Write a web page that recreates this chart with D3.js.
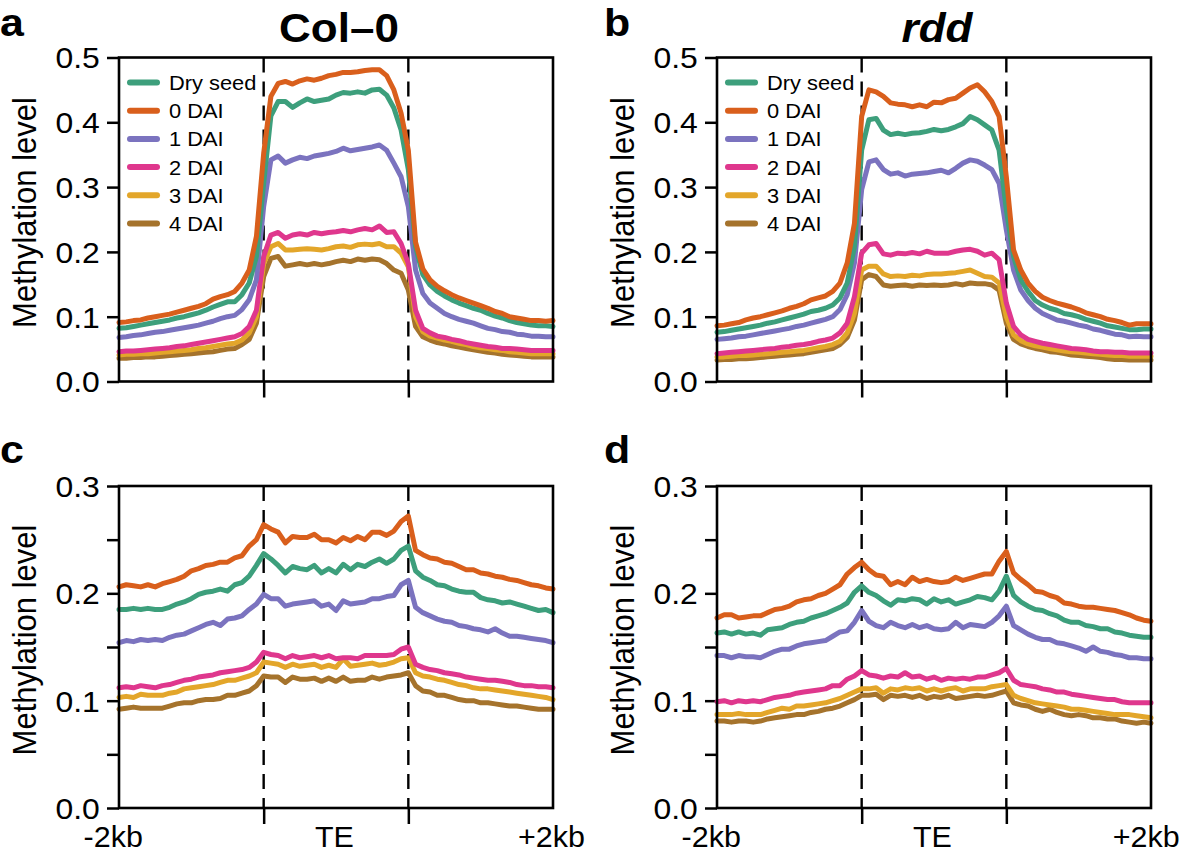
<!DOCTYPE html>
<html>
<head>
<meta charset="utf-8">
<script src="https://d3js.org/d3.v7.min.js"></script>
<style>
  html, body { margin: 0; padding: 0; background: #fff; }
  svg { display: block; }
  text { font-family: "Liberation Sans", Arial, Helvetica, sans-serif; fill: #000; }
</style>
</head>
<body>
<svg id="chart" width="1180" height="852"></svg>
<script>
// ---------------- DATA ----------------
const seriesNames = ["Dry seed", "0 DAI", "1 DAI", "2 DAI", "3 DAI", "4 DAI"];
const seriesColors = ["#3d9f7c", "#d95f1c", "#7b73bf", "#df378d", "#e3a62a", "#a5732c"];
const xLabels = ["-2kb", "TE", "+2kb"];
const teBounds = [20, 40];           // bin index of TE start / end
const xLabelBins = [0, 30, 60];
const yTicksTop = [0, 0.1, 0.2, 0.3, 0.4, 0.5];
const yTicksBottom = [0, 0.05, 0.1, 0.15, 0.2, 0.25, 0.3];
const yLabelsBottom = [0, 0.1, 0.2, 0.3];

// Panel a: Col-0 (upper)
const aDry = [.082,.083,.085,.087,.089,.091,.093,.095,.098,.100,.103,.106,.110,.115,.119,.123,.123,.134,.152,.193,.306,.410,.432,.432,.423,.430,.436,.432,.434,.436,.442,.446,.445,.447,.445,.450,.451,.442,.422,.388,.327,.208,.165,.149,.139,.132,.126,.121,.117,.113,.110,.105,.101,.098,.094,.091,.089,.087,.086,.086,.085];
const aD0 = [.091,.092,.094,.095,.098,.100,.102,.104,.107,.110,.113,.116,.120,.127,.131,.134,.139,.152,.172,.224,.352,.440,.460,.463,.459,.464,.467,.465,.468,.472,.474,.477,.477,.478,.480,.481,.481,.472,.450,.414,.357,.215,.174,.157,.147,.140,.134,.129,.125,.121,.117,.113,.108,.105,.100,.098,.096,.094,.094,.093,.094];
const aD1 = [.068,.069,.071,.072,.074,.076,.077,.079,.081,.083,.085,.087,.090,.093,.097,.100,.102,.111,.126,.157,.270,.342,.348,.337,.342,.346,.344,.348,.350,.352,.355,.360,.356,.358,.360,.362,.365,.357,.337,.316,.270,.172,.136,.121,.113,.105,.100,.096,.093,.090,.086,.082,.080,.077,.076,.073,.072,.070,.070,.069,.069];
const aD2 = [.046,.047,.047,.048,.049,.050,.051,.052,.054,.055,.057,.059,.061,.063,.065,.067,.069,.074,.085,.110,.193,.226,.230,.221,.226,.228,.226,.230,.228,.230,.231,.233,.231,.234,.236,.234,.240,.230,.231,.213,.182,.110,.082,.075,.070,.068,.065,.063,.060,.058,.056,.054,.053,.051,.051,.050,.049,.048,.048,.048,.048];
const aD3 = [.041,.042,.042,.043,.043,.044,.045,.046,.047,.048,.049,.051,.052,.054,.056,.058,.059,.064,.075,.100,.182,.208,.213,.203,.203,.204,.205,.204,.203,.205,.208,.209,.207,.211,.212,.211,.213,.208,.208,.198,.177,.100,.077,.070,.067,.064,.062,.059,.057,.054,.052,.051,.049,.048,.046,.045,.044,.043,.043,.043,.043];
const aD4 = [.036,.036,.037,.037,.038,.038,.039,.040,.041,.042,.043,.044,.045,.046,.048,.050,.051,.057,.065,.090,.162,.190,.193,.178,.180,.182,.180,.182,.180,.182,.185,.187,.185,.189,.187,.189,.188,.182,.172,.167,.141,.085,.069,.064,.060,.058,.055,.053,.051,.049,.047,.045,.044,.042,.041,.040,.039,.038,.038,.038,.038];

// Panel b: rdd (upper)
const bDry = [.076,.077,.079,.081,.083,.085,.087,.090,.092,.095,.098,.101,.104,.108,.110,.113,.118,.129,.152,.208,.357,.404,.406,.388,.381,.383,.381,.383,.384,.386,.389,.387,.389,.393,.398,.409,.404,.396,.388,.357,.265,.193,.157,.139,.125,.118,.113,.110,.105,.103,.100,.096,.093,.090,.086,.084,.082,.080,.080,.081,.081];
const bD0 = [.086,.087,.089,.091,.095,.098,.100,.103,.106,.109,.113,.116,.120,.126,.129,.132,.139,.152,.183,.244,.409,.450,.447,.440,.430,.428,.427,.424,.427,.424,.431,.430,.435,.437,.445,.453,.458,.447,.432,.409,.316,.203,.172,.152,.139,.130,.125,.121,.118,.115,.111,.106,.103,.100,.096,.094,.091,.087,.089,.089,.089];
const bD1 = [.065,.066,.067,.069,.070,.072,.074,.076,.078,.080,.082,.085,.087,.090,.093,.096,.100,.111,.134,.183,.296,.339,.342,.327,.320,.322,.317,.320,.321,.322,.324,.326,.322,.329,.337,.342,.340,.334,.327,.306,.234,.172,.141,.125,.113,.105,.100,.095,.093,.090,.087,.085,.081,.079,.076,.073,.072,.069,.070,.069,.069];
const bD2 = [.043,.044,.045,.046,.047,.048,.049,.050,.051,.053,.054,.056,.057,.059,.062,.064,.067,.075,.090,.131,.198,.211,.213,.197,.195,.198,.197,.199,.197,.201,.198,.198,.198,.201,.203,.204,.201,.195,.198,.188,.121,.085,.072,.065,.062,.059,.057,.055,.053,.051,.050,.049,.047,.046,.046,.045,.045,.044,.044,.044,.044];
const bD3 = [.038,.038,.039,.040,.040,.041,.042,.043,.044,.045,.046,.047,.048,.050,.052,.054,.057,.062,.075,.105,.172,.178,.178,.166,.162,.163,.162,.164,.163,.165,.166,.166,.167,.168,.170,.172,.167,.162,.161,.152,.100,.072,.063,.058,.055,.053,.051,.049,.047,.046,.045,.044,.043,.042,.041,.040,.040,.039,.039,.039,.039];
const bD4 = [.033,.034,.034,.035,.035,.036,.037,.038,.039,.040,.041,.042,.043,.045,.047,.049,.051,.057,.068,.095,.157,.165,.162,.149,.147,.148,.149,.147,.149,.148,.149,.148,.149,.151,.149,.152,.151,.151,.149,.141,.090,.065,.058,.054,.051,.049,.046,.045,.043,.041,.040,.039,.038,.037,.035,.034,.034,.033,.033,.033,.033];

// Panel c: Col-0 (lower)
const cDry = [.185,.185,.186,.185,.186,.185,.185,.187,.190,.192,.195,.199,.201,.202,.204,.202,.208,.210,.216,.226,.237,.232,.226,.219,.225,.223,.222,.226,.219,.223,.219,.227,.222,.227,.225,.229,.232,.228,.232,.240,.244,.221,.215,.212,.208,.207,.204,.202,.201,.201,.196,.194,.193,.191,.192,.190,.188,.186,.184,.185,.182];
const cD0 = [.206,.208,.207,.206,.208,.206,.209,.211,.213,.216,.221,.223,.226,.227,.229,.229,.233,.235,.244,.250,.264,.260,.257,.247,.253,.252,.252,.255,.250,.250,.247,.252,.249,.253,.250,.257,.257,.254,.258,.267,.272,.240,.236,.233,.232,.229,.228,.225,.222,.222,.219,.218,.216,.215,.213,.212,.210,.208,.207,.205,.204];
const cD1 = [.154,.156,.155,.157,.156,.157,.156,.159,.161,.162,.165,.168,.171,.173,.170,.176,.177,.179,.185,.190,.199,.195,.195,.188,.190,.191,.192,.193,.188,.190,.184,.193,.190,.191,.192,.195,.195,.197,.198,.208,.212,.187,.182,.179,.176,.174,.173,.170,.169,.167,.166,.164,.167,.163,.160,.160,.159,.158,.157,.156,.154];
const cD2 = [.112,.113,.112,.114,.113,.112,.114,.115,.117,.119,.120,.122,.123,.124,.126,.127,.128,.129,.131,.136,.145,.143,.142,.139,.142,.140,.141,.142,.140,.142,.139,.140,.140,.139,.142,.142,.142,.142,.143,.148,.150,.134,.131,.129,.128,.126,.125,.124,.122,.121,.120,.119,.119,.118,.117,.115,.114,.114,.113,.113,.112];
const cD3 = [.103,.104,.103,.106,.105,.105,.105,.107,.108,.111,.112,.113,.114,.115,.117,.119,.119,.121,.123,.126,.136,.135,.134,.131,.134,.132,.133,.134,.131,.133,.131,.139,.132,.133,.134,.135,.133,.134,.136,.139,.140,.126,.123,.122,.120,.119,.117,.115,.114,.112,.111,.111,.110,.109,.108,.107,.106,.105,.104,.103,.101];
const cD4 = [.092,.093,.094,.093,.093,.093,.093,.095,.097,.098,.098,.100,.101,.101,.102,.105,.105,.107,.109,.114,.123,.122,.122,.117,.122,.120,.120,.121,.118,.121,.118,.122,.118,.119,.119,.122,.120,.122,.123,.124,.126,.114,.109,.108,.105,.105,.103,.101,.100,.100,.098,.098,.097,.096,.095,.095,.094,.093,.092,.092,.092];

// Panel d: rdd (lower)
const dDry = [.163,.164,.162,.164,.162,.163,.161,.166,.167,.168,.171,.173,.174,.177,.179,.181,.184,.187,.191,.201,.207,.201,.198,.193,.189,.194,.193,.195,.194,.190,.195,.192,.194,.190,.192,.194,.197,.196,.194,.202,.216,.198,.192,.188,.185,.184,.181,.179,.175,.173,.173,.170,.169,.167,.167,.164,.163,.161,.160,.159,.159];
const dD0 = [.177,.180,.180,.177,.178,.179,.179,.182,.185,.186,.188,.192,.194,.195,.198,.200,.204,.208,.218,.224,.229,.222,.217,.216,.208,.211,.208,.215,.211,.213,.211,.210,.211,.215,.212,.214,.216,.218,.218,.230,.239,.219,.213,.208,.202,.201,.198,.196,.191,.190,.188,.187,.187,.186,.185,.184,.182,.180,.177,.175,.174];
const dD1 = [.142,.142,.140,.142,.141,.141,.140,.143,.146,.148,.148,.151,.153,.154,.155,.156,.160,.164,.165,.173,.184,.174,.170,.168,.173,.170,.168,.171,.168,.170,.167,.166,.167,.173,.168,.171,.170,.169,.173,.179,.188,.170,.166,.162,.159,.157,.157,.154,.153,.151,.149,.146,.150,.146,.145,.143,.142,.140,.140,.139,.139];
const dD2 = [.099,.100,.098,.100,.099,.100,.099,.101,.103,.104,.105,.107,.108,.109,.110,.111,.114,.114,.120,.123,.128,.124,.123,.121,.123,.122,.126,.122,.123,.120,.122,.119,.121,.120,.121,.120,.122,.122,.124,.126,.130,.119,.115,.114,.113,.111,.110,.108,.108,.106,.105,.104,.103,.102,.101,.101,.099,.098,.098,.098,.098];
const dD3 = [.087,.087,.087,.088,.087,.087,.087,.089,.091,.093,.092,.095,.095,.096,.097,.098,.100,.102,.105,.108,.111,.111,.112,.107,.111,.110,.112,.111,.112,.109,.111,.109,.111,.112,.109,.111,.111,.111,.113,.114,.115,.105,.102,.100,.098,.097,.096,.095,.094,.092,.092,.091,.090,.089,.088,.087,.087,.087,.086,.085,.084];
const dD4 = [.081,.081,.080,.081,.081,.080,.081,.083,.084,.085,.086,.087,.087,.089,.090,.092,.093,.095,.098,.101,.105,.105,.106,.101,.105,.104,.105,.103,.105,.102,.104,.103,.105,.102,.103,.104,.105,.104,.105,.107,.109,.098,.096,.095,.092,.090,.092,.089,.087,.086,.087,.086,.084,.084,.083,.083,.081,.080,.079,.080,.079];

// ---------------- LAYOUT ----------------
const panels = [
  { letter: "a", title: "Col\u20130", italic: false, series: [aDry, aD0, aD1, aD2, aD3, aD4],
    left: 119, right: 553, top: 57.5, bottom: 381.5, yMax: 0.5, ticks: yTicksTop, labels: yTicksTop, legend: true, xText: false },
  { letter: "b", title: "rdd", italic: true, series: [bDry, bD0, bD1, bD2, bD3, bD4],
    left: 717, right: 1151, top: 57.5, bottom: 381.5, yMax: 0.5, ticks: yTicksTop, labels: yTicksTop, legend: true, xText: false },
  { letter: "c", title: null, series: [cDry, cD0, cD1, cD2, cD3, cD4],
    left: 119, right: 553, top: 486, bottom: 808, yMax: 0.3, ticks: yTicksBottom, labels: yLabelsBottom, legend: false, xText: true, lastDx: -2 },
  { letter: "d", title: null, series: [dDry, dD0, dD1, dD2, dD3, dD4],
    left: 717, right: 1151, top: 486, bottom: 808, yMax: 0.3, ticks: yTicksBottom, labels: yLabelsBottom, legend: false, xText: true, lastDx: -5 }
];

const SX = 1.1;   // horizontal stretch of the typography, as in the figure
const SXL = 1.05; // x-axis labels
const svg = d3.select("#chart");
svg.append("rect").attr("width", 1180).attr("height", 852).attr("fill", "#fff");
const fmt = d3.format(".1f");

panels.forEach(p => {
  const g = svg.append("g");
  const x = d3.scaleLinear().domain([0, 60]).range([p.left, p.right]);
  const y = d3.scaleLinear().domain([0, p.yMax]).range([p.bottom, p.top]);

  // panel letter
  g.append("text")
    .attr("transform", `translate(${p.left > 600 ? 604 : 0},${p.top < 100 ? 36 : 463}) scale(${SX},1)`)
    .attr("font-size", 39).attr("font-weight", "bold").text(p.letter);

  if (p.title) {
    g.append("text")
      .attr("transform", `translate(${(p.left + p.right) / 2 + 3},42) scale(${SX},1)`)
      .attr("text-anchor", "middle").attr("font-size", 40).attr("font-weight", "bold")
      .attr("font-style", p.italic ? "italic" : "normal").text(p.title);
  }

  // y label
  const cy = (p.top + p.bottom) / 2 - 7;
  g.append("text").attr("transform", `translate(${p.left - 83},${cy}) scale(${SX},1) rotate(-90)`)
    .attr("text-anchor", "middle").attr("font-size", 31).text("Methylation level");

  // dashed TE boundaries
  g.selectAll("line.te").data(teBounds).enter().append("line")
    .attr("x1", d => x(d)).attr("x2", d => x(d)).attr("y1", p.top).attr("y2", p.bottom)
    .attr("stroke", "#000").attr("stroke-width", 2.4).attr("stroke-dasharray", "15,9");

  // y axis
  const yAxis = d3.axisLeft(y).tickValues(p.ticks).tickSize(12).tickPadding(5.5)
    .tickFormat(d => p.labels.some(v => Math.abs(v - d) < 1e-9) ? fmt(d) : "");
  const ya = g.append("g").attr("transform", `translate(${p.left},0)`).call(yAxis);
  ya.select(".domain").remove();
  ya.selectAll("line").attr("stroke", "#000").attr("stroke-width", 2.5);
  ya.selectAll("text").attr("font-size", 29).attr("font-family", "'Liberation Sans', Arial, sans-serif")
    .attr("dy", "0.36em").attr("transform", `scale(${SX},1)`);

  // x axis tick marks
  const xAxis = d3.axisBottom(x).tickValues(teBounds).tickSize(16).tickFormat("");
  const xa = g.append("g").attr("transform", `translate(0,${p.bottom})`).call(xAxis);
  xa.select(".domain").remove();
  xa.selectAll("line").attr("stroke", "#000").attr("stroke-width", 2.5);

  if (p.xText) {
    const xAxis2 = d3.axisBottom(x).tickValues(xLabelBins).tickSize(0).tickPadding(18)
      .tickFormat((d, i) => xLabels[i]);
    const xb = g.append("g").attr("transform", `translate(0,${p.bottom})`).call(xAxis2);
    xb.select(".domain").remove();
    xb.selectAll("text").attr("font-size", 29).attr("font-family", "'Liberation Sans', Arial, sans-serif")
      .attr("dx", (d, i) => [-6, -2, p.lastDx][i]).attr("transform", `scale(${SXL},1)`);
  }

  // curves
  const line = d3.line().x((d, i) => x(i)).y(d => y(d));
  const order = [5, 4, 3, 2, 0, 1];
  order.forEach(k => {
    g.append("path").datum(p.series[k]).attr("d", line)
      .attr("fill", "none").attr("stroke", seriesColors[k]).attr("stroke-width", 5)
      .attr("stroke-linejoin", "round").attr("stroke-linecap", "round");
  });

  // box
  g.append("rect").attr("x", p.left).attr("y", p.top).attr("width", p.right - p.left).attr("height", p.bottom - p.top)
    .attr("fill", "none").attr("stroke", "#000").attr("stroke-width", 2.6);

  // legend
  if (p.legend) {
    const lg = g.append("g");
    seriesNames.forEach((name, k) => {
      const ly = 82.5 + k * 28.2;
      lg.append("line").attr("x1", p.left + 11).attr("x2", p.left + 38).attr("y1", ly).attr("y2", ly)
        .attr("stroke", seriesColors[k]).attr("stroke-width", 6).attr("stroke-linecap", "round");
      lg.append("text").attr("transform", `translate(${p.left + 50},${ly + 7.5}) scale(1.04,1)`)
        .attr("font-size", 21).text(name);
    });
  }
});
</script>
</body>
</html>
